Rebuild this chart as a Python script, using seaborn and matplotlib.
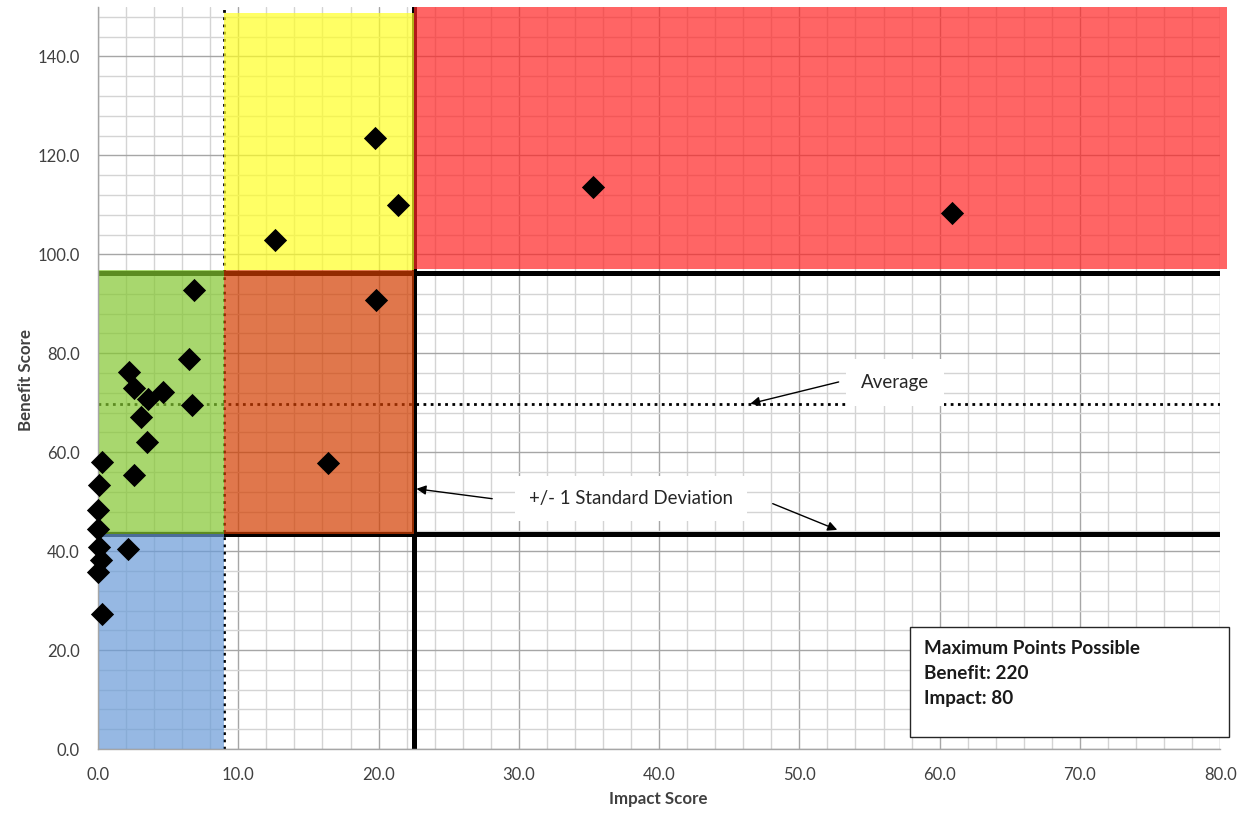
import matplotlib
matplotlib.use("Agg")
import matplotlib.pyplot as plt
from matplotlib.patches import Rectangle
from matplotlib.ticker import MultipleLocator, FormatStrFormatter
import pandas as pd
import seaborn as sns

# Project scores
impact_scores = [60.9, 35.3, 19.75, 21.4, 12.6, 19.8, 16.4, 6.87, 6.51, 6.7,
                 2.23, 2.59, 4.66, 3.54, 3.04, 3.49, 2.59, 0.31, 0.1, 0.0,
                 0.0, 0.07, 2.16, 0.2, 0.0, 0.3]
benefit_scores = [108.4, 113.6, 123.5, 109.9, 102.9, 90.7, 57.8, 92.7, 78.9, 69.6,
                  76.3, 72.9, 72.2, 70.7, 67.1, 62.1, 55.3, 58.1, 53.3, 48.4,
                  44.4, 40.8, 40.5, 38.3, 35.8, 27.2]

# Average and +/- 1 standard deviation thresholds
impact_avg = 9.0
impact_upper = 22.5
benefit_lower = 43.4
benefit_avg = 69.8
benefit_upper = 96.2

# Shaded zones: (x0, x1, y0, y1, colour)
zone_x0 = [0.0, 0.0, impact_avg, impact_avg, impact_upper]
zone_x1 = [impact_avg, impact_avg, impact_upper, impact_upper, 80.5]
zone_y0 = [0.0, benefit_lower, benefit_lower, 96.8, 97.0]
zone_y1 = [benefit_lower, 96.8, 96.8, 148.8, 150.0]
zone_colors = ["#6a9bd8", "#84c730", "#d33e00", "#ffff24", "#ff2424"]

info_lines = ["Maximum Points Possible", "Benefit: 220", "Impact: 80"]

sns.set_style("white")
plt.rcParams["font.family"] = ["Lato", "DejaVu Sans"]

fig = plt.figure(figsize=(12.57, 8.13), dpi=100)
ax = fig.add_axes([0.078, 0.0787, 0.8927, 0.9127])

df = pd.DataFrame({"Impact Score": impact_scores, "Benefit Score": benefit_scores})

ax.set_xlim(0, 80)
ax.set_ylim(0, 150)

# Grid
ax.xaxis.set_major_locator(MultipleLocator(10))
ax.xaxis.set_minor_locator(MultipleLocator(2))
ax.yaxis.set_major_locator(MultipleLocator(20))
ax.yaxis.set_minor_locator(MultipleLocator(4))
ax.xaxis.set_major_formatter(FormatStrFormatter("%.1f"))
ax.yaxis.set_major_formatter(FormatStrFormatter("%.1f"))
ax.grid(which="minor", color="#d4d4d4", lw=1.0, zorder=0)
ax.grid(which="major", color="#a6a6a6", lw=1.0, zorder=0)
ax.set_axisbelow(True)

# Threshold lines
ax.axhline(benefit_upper, xmin=0, xmax=1, color="black", lw=3.6, zorder=1)
ax.axhline(benefit_lower, xmin=0, xmax=1, color="black", lw=3.6, zorder=1)
ax.axvline(impact_upper, color="black", lw=3.6, zorder=1)
ax.axvline(impact_avg, color="black", lw=2.0, ls=(0, (1, 1.6)), zorder=1)
ax.axhline(benefit_avg, color="black", lw=2.0, ls=(0, (1, 1.6)), zorder=1)

# Shaded zones
for x0, x1, y0, y1, c in zip(zone_x0, zone_x1, zone_y0, zone_y1, zone_colors):
    ax.add_patch(Rectangle((x0, y0), x1 - x0, y1 - y0, facecolor=c,
                           edgecolor="none", alpha=0.7, zorder=2, clip_on=False))

sns.scatterplot(data=df, x="Impact Score", y="Benefit Score", marker="D",
                s=140, color="black", edgecolor="black", linewidth=0,
                ax=ax, zorder=4, clip_on=False)

# Axes styling
for side in ["top", "right"]:
    ax.spines[side].set_visible(False)
for side in ["left", "bottom"]:
    ax.spines[side].set_color("#a6a6a6")
    ax.spines[side].set_linewidth(1.0)
ax.tick_params(which="major", direction="out", length=5, width=1,
               color="#a6a6a6", labelsize=12, labelcolor="#404040", pad=8)
ax.tick_params(which="minor", length=0)
ax.set_xlabel("Impact Score", fontsize=12.2, fontweight="bold", color="#404040")
ax.set_ylabel("Benefit Score", fontsize=12.2, fontweight="bold", color="#404040")
ax.xaxis.set_label_coords(0.499, -0.056)
ax.yaxis.set_label_coords(-0.057, 0.497)

# Callouts
arrow_style = dict(arrowstyle="-|>", color="black", lw=1.0, mutation_scale=14,
                   shrinkA=0, shrinkB=0)
ax.annotate("", xy=(46.5, 69.8), xytext=(52.8, 74.2), arrowprops=arrow_style, zorder=5)
ax.text(56.8, 74.0, "Average", fontsize=13.5, color="#262626", ha="center",
        va="center", zorder=5,
        bbox=dict(boxstyle="square,pad=0.8", facecolor="white", edgecolor="none"))

ax.annotate("", xy=(22.7, 52.6), xytext=(28.1, 50.6), arrowprops=arrow_style, zorder=5)
ax.annotate("", xy=(52.7, 44.3), xytext=(48.1, 49.6), arrowprops=arrow_style, zorder=5)
ax.text(38.0, 50.7, "+/- 1 Standard Deviation", fontsize=13.4, color="#262626",
        ha="center", va="center", zorder=5,
        bbox=dict(boxstyle="square,pad=0.75", facecolor="white", edgecolor="none"))

# Maximum points box
ax.add_patch(Rectangle((57.9, 2.4), 80.6 - 57.9, 24.6 - 2.4, facecolor="white",
                       edgecolor="#262626", lw=1.0, zorder=5, clip_on=False))
for i, line in enumerate(info_lines):
    ax.text(58.9, 20.4 - 5.05 * i, line, fontsize=13.6, fontweight="bold",
            color="#1a1a1a", ha="left", va="center", zorder=6)

fig.savefig("out.png", dpi=100)
